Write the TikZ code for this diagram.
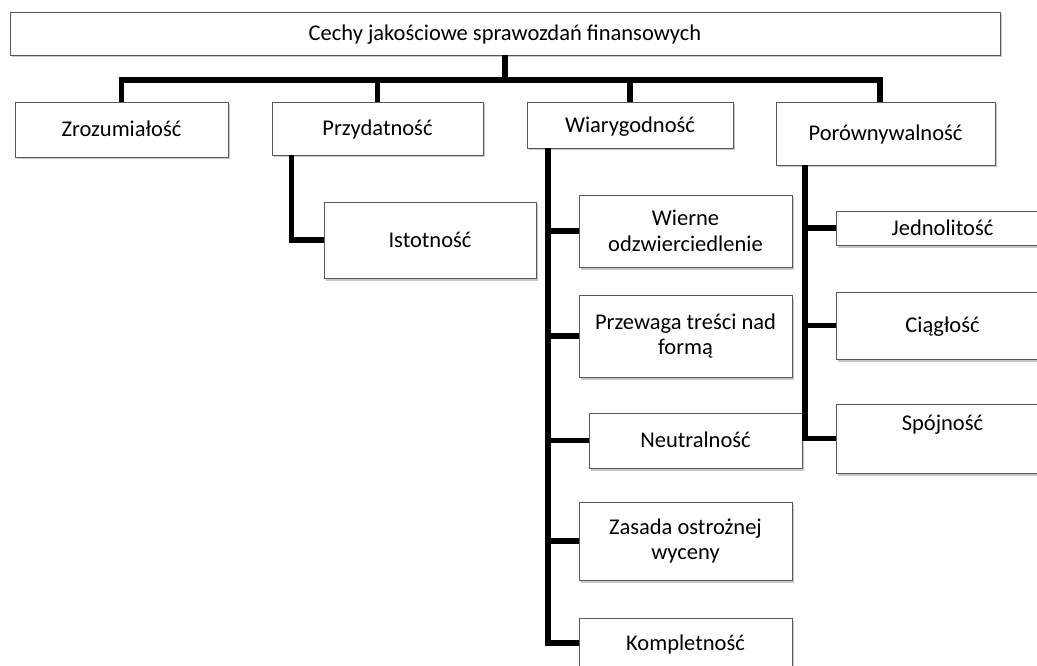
\documentclass[tikz,border=0pt]{standalone}
\usepackage{fontspec}
\setmainfont{Carlito}
\usetikzlibrary{shadows}
\tikzset{
  box/.style={draw=black!65, line width=0.8pt, fill=white,
    drop shadow={shadow xshift=2pt, shadow yshift=-2.5pt, opacity=0.3, fill=black!70},
    inner sep=0pt, align=center, minimum width=213pt,
    font=\fontsize{22.5}{25.5}\selectfont},
  one/.style={text height=16.5pt, text depth=2pt},
  conn/.style={line width=5.5pt, draw=black, line join=miter}
}
\begin{document}
\begin{tikzpicture}[x=1pt,y=-1pt]
\path[use as bounding box, clip] (0,0) rectangle (1037,666);
\fill[white] (0,0) rectangle (1037,666);
% top
\node[box, one, minimum width=990pt, minimum height=43pt] (top) at (505,33.5) {Cechy jakościowe sprawozdań finansowych};
% level 1
\node[box, one, minimum height=55pt] (zroz) at (121.5,129.5) {Zrozumiałość};
\node[box, one, minimum width=211pt, minimum height=53pt] (przy) at (377.5,128.5) {Przydatność};
\node[box, one, minimum width=206pt, minimum height=46pt] (wiar) at (630,125) {Wiarygodność};
\node[box, one, minimum width=219pt, minimum height=63pt] (por) at (885.5,133.5) {Porównywalność};
% Przydatność child
\node[box, one, minimum width=212pt, minimum height=76pt] (isto) at (430,240) {Istotność};
% Wiarygodność children
\node[box, minimum height=72pt] (wie) at (685.5,231) {Wierne\\odzwierciedlenie};
\node[box, minimum height=82pt] (prz) at (685.5,336) {Przewaga treści nad\\formą};
\node[box, one, minimum height=55pt] (neu) at (695.5,440.5) {Neutralność};
\node[box, minimum height=78pt] (zas) at (685.5,541) {Zasada ostrożnej\\wyceny};
\node[box, one, minimum height=50pt] (kom) at (685.5,643) {Kompletność};
% Porównywalność children
\node[box, one, minimum height=34pt] (jed) at (942.5,228) {Jednolitość};
\node[box, one, minimum height=67pt] (cia) at (942.5,325.5) {Ciągłość};
\node[box, minimum height=69pt] (spo) at (942.5,438.5) {Spójność\\[6pt]\mbox{}};
% connectors
\coordinate (busy) at (0,80);
\draw[conn] (top.south) -- (top.south |- busy);
\draw[conn] (zroz.north) -- (zroz.north |- busy) -| ([xshift=-5.5pt]por.north);
\draw[conn] (przy.north |- busy) -- (przy.north);
\draw[conn] (wiar.north |- busy) -- (wiar.north);
% Przydatność -> Istotność
\draw[conn] ([xshift=-32pt]isto.west |- przy.south) |- (isto.west);
% Wiarygodność trunk
\path (wiar.south) ++(-82,0) coordinate (wt);
\draw[conn] (wt) |- (kom.west);
\draw[conn] (wt |- wie.west) -- (wie.west);
\draw[conn] (wt |- prz.west) -- (prz.west);
\draw[conn] (wt |- neu.west) -- (neu.west);
\draw[conn] (wt |- zas.west) -- (zas.west);
% Porównywalność trunk
\path (por.south) ++(-80.5,0) coordinate (pt);
\draw[conn] (pt) |- (spo.west);
\draw[conn] (pt |- jed.west) -- (jed.west);
\draw[conn] (pt |- cia.west) -- (cia.west);
\end{tikzpicture}
\end{document}
